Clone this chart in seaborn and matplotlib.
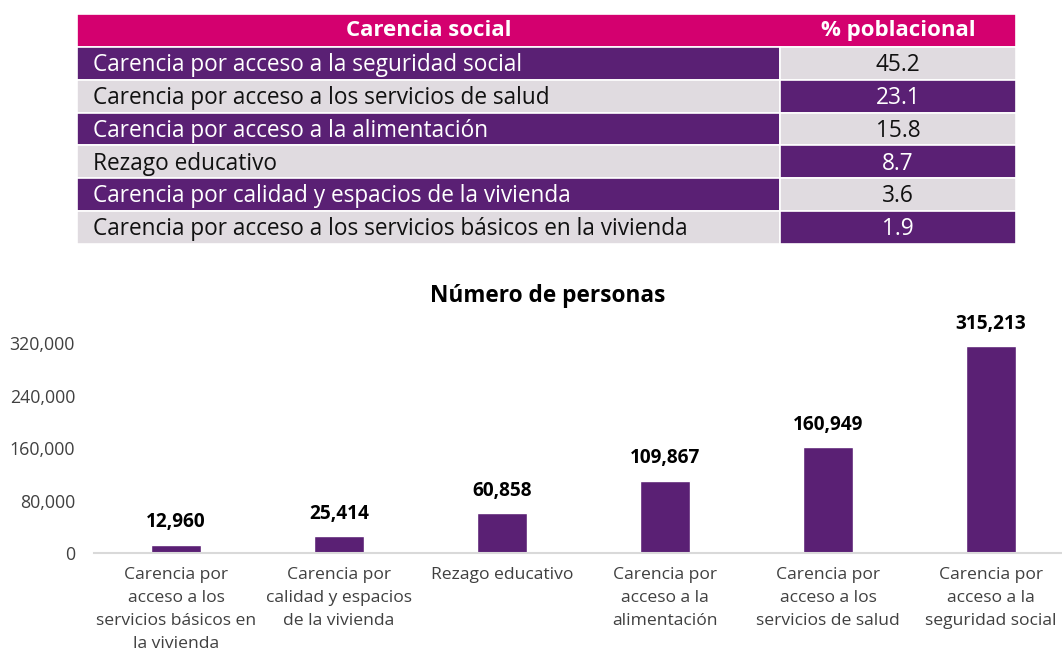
import matplotlib
matplotlib.use("Agg")
import matplotlib.pyplot as plt
from matplotlib.patches import Rectangle
import seaborn as sns
import pandas as pd

# datos de la tabla
carencias = [
    "Carencia por acceso a la seguridad social",
    "Carencia por acceso a los servicios de salud",
    "Carencia por acceso a la alimentación",
    "Rezago educativo",
    "Carencia por calidad y espacios de la vivienda",
    "Carencia por acceso a los servicios básicos en la vivienda",
]
porcentajes = ["45.2", "23.1", "15.8", "8.7", "3.6", "1.9"]

# datos de la gráfica de barras
etiquetas = [
    "Carencia por\nacceso a los\nservicios básicos en\nla vivienda",
    "Carencia por\ncalidad y espacios\nde la vivienda",
    "Rezago educativo",
    "Carencia por\nacceso a la\nalimentación",
    "Carencia por\nacceso a los\nservicios de salud",
    "Carencia por\nacceso a la\nseguridad social",
]
personas = [12960, 25414, 60858, 109867, 160949, 315213]

MORADO = "#5A2074"
GRIS = "#E0DBE0"
MAGENTA = "#D4006F"

sns.set_theme(style="white")
plt.rcParams['font.family'] = ['Open Sans', 'DejaVu Sans']

W, H = 1062, 654
fig = plt.figure(figsize=(W / 100, H / 100), dpi=100)

# --- tabla ---
tx0, tx1, ty0, ty1 = 77, 1016, 14, 244
axt = fig.add_axes([tx0 / W, 1 - ty1 / H, (tx1 - tx0) / W, (ty1 - ty0) / H])
n = len(carencias) + 1
axt.set_xlim(0, 1)
axt.set_ylim(n, 0)
axt.axis("off")
split = (780 - tx0) / (tx1 - tx0)

axt.add_patch(Rectangle((0, 0), 1, 1, facecolor=MAGENTA, edgecolor="white", lw=1.2))
axt.text(split / 2, 0.5, "Carencia social", ha="center", va="center",
         color="white", fontsize=16, fontweight="bold")
axt.text((1 + split) / 2, 0.5, "% poblacional", ha="center", va="center",
         color="white", fontsize=16, fontweight="bold")

for i, (nombre, pct) in enumerate(zip(carencias, porcentajes)):
    r = i + 1
    izq = MORADO if i % 2 == 0 else GRIS
    der = GRIS if i % 2 == 0 else MORADO
    axt.add_patch(Rectangle((0, r), split, 1, facecolor=izq, edgecolor="white", lw=1.2))
    axt.add_patch(Rectangle((split, r), 1 - split, 1, facecolor=der, edgecolor="white", lw=1.2))
    axt.text(16 / (tx1 - tx0), r + 0.55, nombre, ha="left", va="center", fontsize=16.3,
             color="white" if izq == MORADO else "#111111")
    axt.text((1 + split) / 2, r + 0.55, pct, ha="center", va="center", fontsize=16.3,
             color="white" if der == MORADO else "#111111")

# --- barras ---
bx0, by0 = 94.5, 553
ax = fig.add_axes([bx0 / W, 1 - by0 / H, 1 - bx0 / W, (by0 - 317) / H])
df = pd.DataFrame({"carencia": etiquetas, "personas": personas})
sns.barplot(data=df, x="carencia", y="personas", color=MORADO, width=0.31,
            saturation=1, ax=ax)
ax.set_xlim(-0.5, 5.436)
ax.set_ylim(0, 360000)
ax.set_yticks([0, 80000, 160000, 240000, 320000])
ax.set_yticklabels([f"{v:,}" for v in [0, 80000, 160000, 240000, 320000]])
ax.set_xlabel("")
ax.set_ylabel("")
for s in ["top", "right", "left"]:
    ax.spines[s].set_visible(False)
ax.spines["bottom"].set_color("#D9D9D9")
ax.spines["bottom"].set_linewidth(1.5)
ax.tick_params(axis="y", length=0, pad=14, labelsize=12.8, labelcolor="#404040")
ax.tick_params(axis="x", length=0, pad=10, labelsize=12.6, labelcolor="#404040")
for lab in ax.get_xticklabels():
    lab.set_linespacing(1.58)

for i, v in enumerate(personas):
    ax.annotate(f"{v:,}", (i, v), xytext=(0, 9), textcoords="offset points",
                ha="center", va="bottom", fontsize=13.7, fontweight="bold", color="black")

fig.text(548 / W, 1 - 296 / H, "Número de personas", ha="center", va="center",
         fontsize=16.3, fontweight="bold", color="black")

fig.savefig("out.png", dpi=100)
